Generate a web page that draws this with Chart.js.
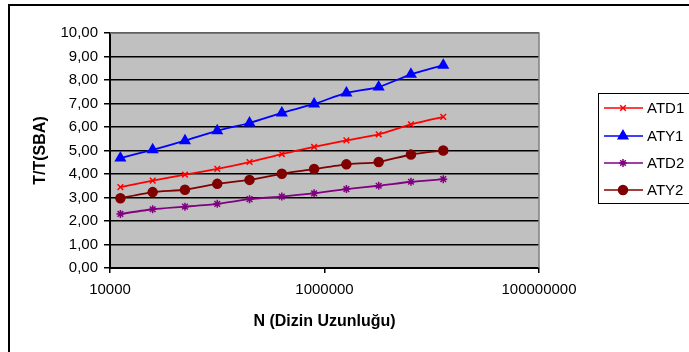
<!DOCTYPE html>
<html>
<head>
<meta charset="utf-8">
<script src="https://cdn.jsdelivr.net/npm/chart.js@4/dist/chart.umd.min.js"></script>
<style>
  html, body { margin: 0; padding: 0; background: #fff; }
  canvas { display: block; }
</style>
</head>
<body>
<canvas id="chart" width="689" height="352"></canvas>
<script>
// Dizin uzunlukları (x) ve oran değerleri
const lengths = [12500, 25000, 50000, 100000, 200000, 400000, 800000, 1600000, 3200000, 6400000, 12800000];
const atd1 = [3.44, 3.72, 3.97, 4.22, 4.51, 4.85, 5.15, 5.43, 5.69, 6.11, 6.43];
const aty1 = [4.68, 5.03, 5.42, 5.84, 6.17, 6.60, 6.98, 7.45, 7.70, 8.24, 8.63];
const atd2 = [2.30, 2.50, 2.61, 2.73, 2.93, 3.04, 3.18, 3.36, 3.50, 3.67, 3.78];
const aty2 = [2.97, 3.23, 3.33, 3.58, 3.75, 4.01, 4.21, 4.41, 4.51, 4.83, 5.00];
const xTicks = [10000, 1000000, 100000000];

const FONT = "'Liberation Sans', Arial, sans-serif";

function series(label, values, color, style, radius) {
  return {
    label: label,
    data: lengths.map((x, i) => ({ x: x, y: values[i] })),
    borderColor: color,
    backgroundColor: color,
    pointBackgroundColor: color,
    pointBorderColor: color,
    borderWidth: 1.8,
    pointStyle: style,
    pointRadius: radius,
    pointBorderWidth: 1.5,
    tension: 0.2
  };
}

// Excel tarzı çerçeve, gri çizim alanı ve sağdaki lejant
const frame = {
  id: "frame",
  beforeDraw(chart) {
    const { ctx, chartArea: a } = chart;
    ctx.save();
    ctx.fillStyle = "#c0c0c0";
    ctx.fillRect(a.left, a.top, a.right - a.left, a.bottom - a.top);
    ctx.restore();
  },
  afterDatasetsDraw(chart) {
    const { ctx, chartArea: a } = chart;
    ctx.save();
    ctx.strokeStyle = "#808080";
    ctx.lineWidth = 1.5;
    ctx.beginPath();
    ctx.moveTo(a.left, a.top);
    ctx.lineTo(a.right, a.top);
    ctx.lineTo(a.right, a.bottom);
    ctx.stroke();
    ctx.restore();
  },
  afterDraw(chart) {
    const ctx = chart.ctx;
    ctx.save();
    ctx.strokeStyle = "#000";
    ctx.lineWidth = 2;
    ctx.strokeRect(9, 5, 700, 400);

    // lejant kutusu
    ctx.lineWidth = 1;
    ctx.strokeRect(598.5, 93.5, 110, 110);
    const rows = [108, 136, 163, 190];
    chart.data.datasets.forEach((ds, i) => {
      const y = rows[i];
      ctx.strokeStyle = ds.borderColor;
      ctx.fillStyle = ds.borderColor;
      ctx.lineWidth = 1.5;
      ctx.beginPath();
      ctx.moveTo(604, y);
      ctx.lineTo(643, y);
      ctx.stroke();
      Chart.helpers.drawPoint(ctx, {
        pointStyle: ds.pointStyle,
        radius: ds.pointRadius,
        rotation: 0,
        borderWidth: 1.5
      }, 623, y);
      ctx.fillStyle = "#000";
      ctx.font = "15px " + FONT;
      ctx.textBaseline = "middle";
      ctx.textAlign = "left";
      ctx.fillText(ds.label, 647, y + 1);
    });
    ctx.restore();
  }
};

new Chart(document.getElementById("chart"), {
  type: "line",
  data: {
    datasets: [
      series("ATD1", atd1, "#ff0000", "crossRot", 4),
      series("ATY1", aty1, "#0000ff", "triangle", 5.5),
      series("ATD2", atd2, "#800080", "star", 4),
      series("ATY2", aty2, "#800000", "circle", 4.5)
    ]
  },
  options: {
    responsive: false,
    animation: false,
    layout: { padding: { top: 33, right: 150, left: 0, bottom: 0 } },
    plugins: {
      legend: { display: false },
      tooltip: { enabled: false }
    },
    scales: {
      x: {
        type: "logarithmic",
        min: 10000,
        max: 100000000,
        afterBuildTicks(scale) {
          scale.ticks = xTicks.map(v => ({ value: v }));
        },
        afterFit(scale) { scale.height = 84; },
        grid: { drawOnChartArea: false, drawTicks: true, tickLength: 5, color: "#000", lineWidth: 1.5 },
        border: { color: "#000", width: 2 },
        ticks: {
          color: "#000",
          font: { family: FONT, size: 15 },
          padding: 8,
          maxRotation: 0,
          autoSkip: false,
          callback: v => String(v)
        },
        title: {
          display: true,
          text: "N (Dizin Uzunluğu)",
          color: "#000",
          font: { family: FONT, size: 16, weight: "bold" },
          padding: { top: 0, bottom: 21 }
        }
      },
      y: {
        min: 0,
        max: 10,
        afterFit(scale) { scale.width = 110; },
        grid: { color: "#000", lineWidth: 1.5, tickLength: 6 },
        border: { color: "#000", width: 2 },
        ticks: {
          stepSize: 1,
          color: "#000",
          font: { family: FONT, size: 15 },
          padding: 6,
          callback: v => v.toFixed(2).replace(".", ",")
        },
        title: {
          display: true,
          text: "T/T(SBA)",
          color: "#000",
          font: { family: FONT, size: 16, weight: "bold" },
          padding: { top: 31, bottom: 0 }
        }
      }
    }
  },
  plugins: [frame]
});
</script>
</body>
</html>
